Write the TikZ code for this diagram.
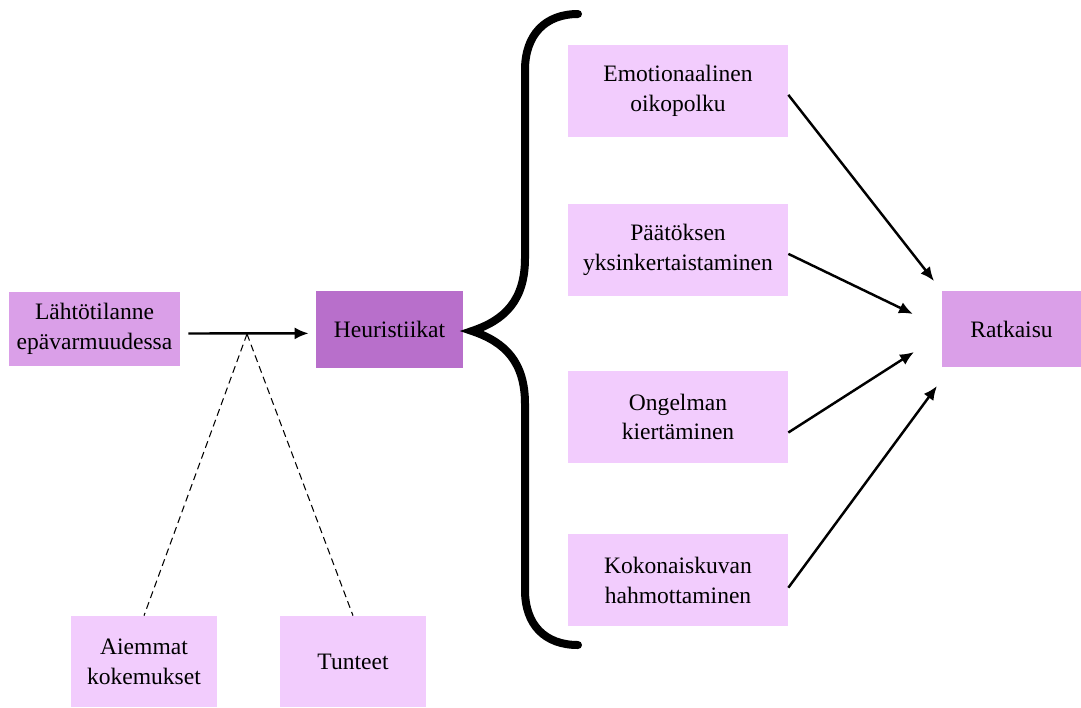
\documentclass[tikz,border=0pt]{standalone}
\usepackage{fontspec}
\setmainfont{Liberation Serif}
\usetikzlibrary{positioning,arrows.meta}

\definecolor{lila}{HTML}{DA9FE8}
\definecolor{tumma}{HTML}{B86FCB}
\definecolor{vaalea}{HTML}{F2CCFD}

\tikzset{
  laatikko/.style={fill=vaalea,align=center,inner sep=0pt,
    font=\fontsize{13.4}{17}\selectfont},
  oikea/.style={laatikko,minimum width=4.4cm,minimum height=1.84cm},
  ala/.style={laatikko,minimum width=2.92cm,minimum height=1.82cm},
  nuoli/.style={line width=1.4pt,-{Latex[length=0.28cm,width=0.24cm]}},
  katko/.style={dash pattern=on 4pt off 2.5pt,line width=0.6pt}
}

\begin{document}
\begin{tikzpicture}[x=0.02cm,y=-0.02cm]
  \useasboundingbox (0,0) rectangle (1081,707);
  \node[laatikko,fill=lila,minimum width=3.42cm,minimum height=1.48cm] (lahto) at (94.5,329) {Lähtötilanne\\epävarmuudessa};
  \node[laatikko,fill=tumma,minimum width=2.94cm,minimum height=1.54cm] (heur) at (389.5,329.5) {Heuristiikat};
  \node[ala] (aiem) at (144,661.5) {Aiemmat\\kokemukset};
  \node[ala] (tunt) at (353,661.5) {Tunteet};
  \node[oikea] (emo) at (678,91) {Emotionaalinen\\oikopolku};
  \node[oikea] (paat) at (678,250) {Päätöksen\\yksinkertaistaminen};
  \node[oikea] (ong) at (678,417) {Ongelman\\kiertäminen};
  \node[oikea] (kok) at (678,580) {Kokonaiskuvan\\hahmottaminen};
  \node[laatikko,fill=lila,minimum width=2.78cm,minimum height=1.52cm] (ratk) at (1011.5,329) {Ratkaisu};
  \coordinate (jako) at (247,334);
  \coordinate (r1) at (934,281);
  \coordinate (r2) at (913,314);
  \coordinate (r3) at (914,352);
  \coordinate (r4) at (937,386);
  % lahto -> heuristiikat
  \draw[nuoli,shorten <=0.16cm,shorten >=0.14cm] (lahto.-3) -- (heur.183);
  \draw[katko] (jako) -- (aiem.north);
  \draw[katko] (jako) -- (tunt.north);
  % aaltosulje
  \draw[line width=0.16cm,line cap=round] (578,14) .. controls (545,14) and (525,35) .. (525,70)
    -- (525,258) .. controls (525,300) and (505,320) .. (472,331)
    .. controls (505,342) and (525,362) .. (525,404) -- (525,590)
    .. controls (525,625) and (545,645) .. (578,645);
  % ratkaisuun
  \draw[nuoli] (emo.-2) -- (r1);
  \draw[nuoli] (paat.-2) -- (r2);
  \draw[nuoli] (ong.-8) -- (r3);
  \draw[nuoli] (kok.-4) -- (r4);
\end{tikzpicture}
\end{document}
